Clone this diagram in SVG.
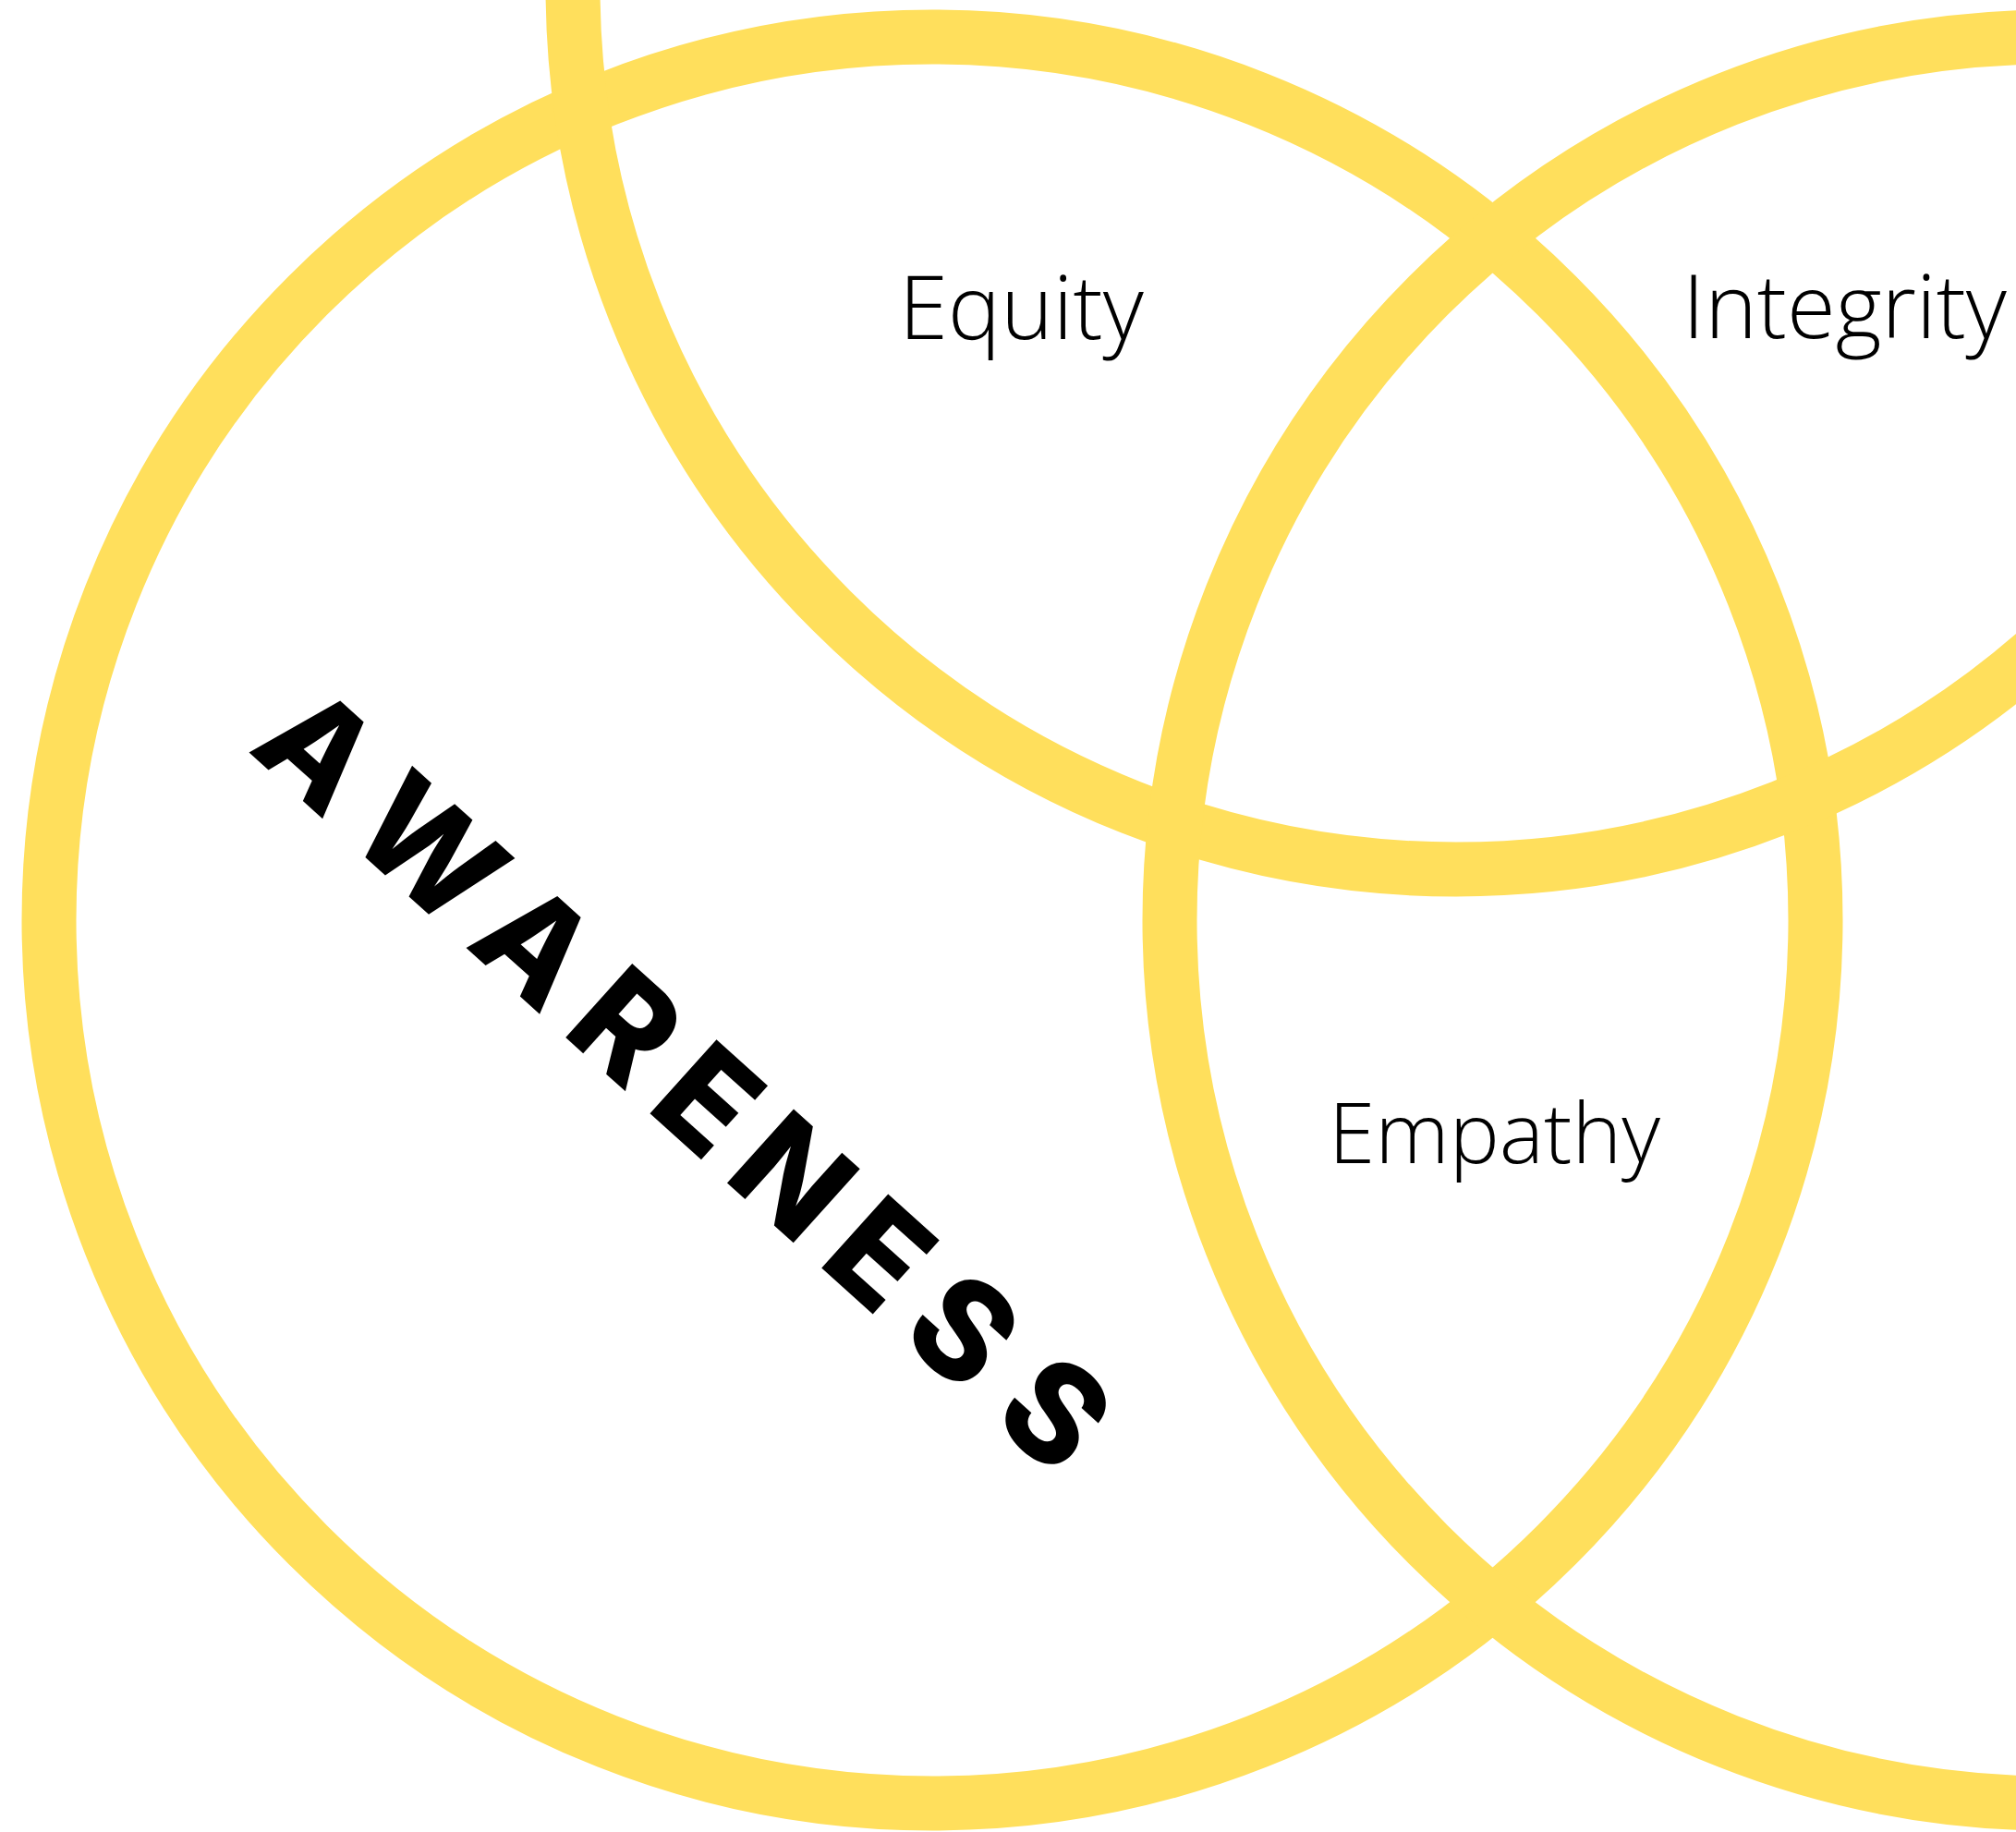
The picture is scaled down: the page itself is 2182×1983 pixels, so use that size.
<svg xmlns="http://www.w3.org/2000/svg" width="2182" height="1983" viewBox="0 0 2182 1983">
<style>
.ring{fill:none;stroke:#FFDF5C;stroke-width:59}
.lbl{font-family:"Open Sans","Liberation Sans",sans-serif;font-weight:300;font-size:96px;fill:#000}
.big{font-family:Inter,"Liberation Sans",sans-serif;font-weight:800;font-size:148px;fill:#000}
</style>
<rect width="2182" height="1983" fill="#fff"/>
<g id="connectors"></g>
<g id="circle-awareness"><circle class="ring" cx="1009" cy="996" r="956"/></g>
<g id="circle-top"><circle class="ring" cx="1576" cy="-15" r="956"/></g>
<g id="circle-right"><circle class="ring" cx="2222" cy="996" r="956"/></g>
<g id="label-equity"><text class="lbl" x="973" y="367">Equity</text></g>
<g id="label-integrity"><text class="lbl" x="1821" y="366">Integrity</text></g>
<g id="label-empathy"><text class="lbl" x="1438" y="1259" style="font-size:91px">Empathy</text></g>
<g id="label-awareness" transform="rotate(42)">
<text class="big" text-anchor="middle" x="799 961 1115 1247 1366 1490 1616 1738 1872" y="425">AWARENESS</text>
</g>
</svg>
